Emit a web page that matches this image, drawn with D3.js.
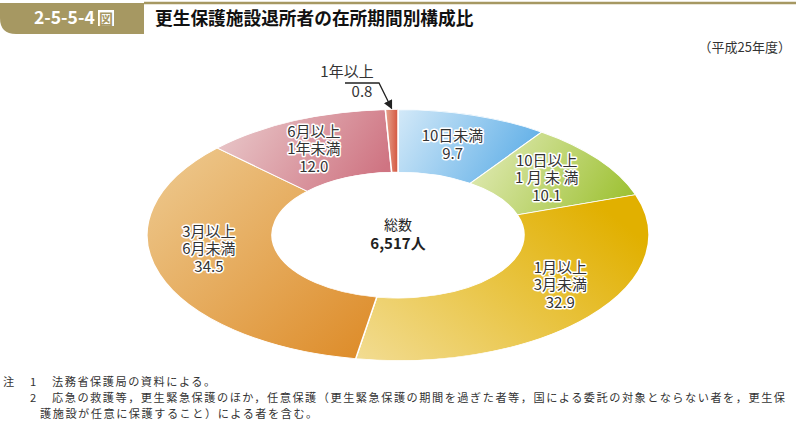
<!DOCTYPE html>
<html>
<head>
<meta charset="utf-8">
<script src="https://cdn.jsdelivr.net/npm/d3@7"></script>
<style>
  body { margin: 0; background: #fff; }
  svg { display: block; font-family: "Noto Sans CJK JP", "Noto Sans", sans-serif; }
</style>
</head>
<body>
<div id="chart"></div>
<script>
// data
var categories = ["10日未満", "10日以上1月未満", "1月以上3月未満", "3月以上6月未満", "6月以上1年未満", "1年以上"];
var values = [9.7, 10.1, 32.9, 34.5, 12.0, 0.8];
var labelLines = [
    ["10日未満", "9.7"],
    ["10日以上", "1 月 未 満", "10.1"],
    ["1月以上", "3月未満", "32.9"],
    ["3月以上", "6月未満", "34.5"],
    ["6月以上", "1年未満", "12.0"],
    []
];
var totalLabel = ["総数", "6,517人"];
var smallLabel = ["1年以上", "0.8"];

var svgWidth = 796, svgHeight = 423;
var gold = "#a69862";

var svg = d3.select("#chart").append("svg")
    .attr("width", svgWidth)
    .attr("height", svgHeight);

// header
svg.append("path")
    .attr("d", "M0,3 H144 V34 H16 Q0,34 0,18 Z")
    .attr("fill", gold);
svg.append("line")
    .attr("x1", 144).attr("x2", svgWidth)
    .attr("y1", 3).attr("y2", 3)
    .attr("stroke", gold).attr("stroke-width", 2.5);
svg.append("text")
    .attr("x", 34).attr("y", 24)
    .attr("fill", "#fff")
    .attr("font-size", 17.5).attr("font-weight", "bold")
    .text("2-5-5-4");
svg.append("rect")
    .attr("x", 98).attr("y", 10).attr("width", 16).attr("height", 16)
    .attr("fill", "#fff");
svg.append("text")
    .attr("x", 106).attr("y", 23.5)
    .attr("text-anchor", "middle")
    .attr("fill", gold)
    .attr("font-size", 14).attr("font-weight", "bold")
    .text("図");
svg.append("text")
    .attr("x", 155).attr("y", 25)
    .attr("fill", "#111")
    .attr("font-size", 17.7).attr("font-weight", "bold")
    .text("更生保護施設退所者の在所期間別構成比");
svg.append("text")
    .attr("x", 791).attr("y", 52)
    .attr("text-anchor", "end")
    .attr("fill", "#333")
    .attr("font-size", 13)
    .text("（平成25年度）");

// gradients
var grads = [
    {c0: "#d3e9f8", c1: "#66b2e8", x1: 0, y1: 0, x2: 1, y2: 0.3},
    {c0: "#e0eab4", c1: "#9fc236", x1: 0, y1: 0.3, x2: 1, y2: 0.6},
    {c0: "#f2dc92", c1: "#e1b000", x1: 0, y1: 1, x2: 1, y2: 0.3},
    {c0: "#eecb92", c1: "#dd8a26", x1: 0, y1: 0, x2: 1, y2: 1},
    {c0: "#e8c6c8", c1: "#cf7482", x1: 0, y1: 0.3, x2: 1, y2: 0.6},
    {c0: "#e6a590", c1: "#d4553f", x1: 0, y1: 0, x2: 1, y2: 0}
];
var defs = svg.append("defs");
grads.forEach(function(g, i) {
    var lg = defs.append("linearGradient")
        .attr("id", "grad" + i)
        .attr("x1", g.x1).attr("y1", g.y1)
        .attr("x2", g.x2).attr("y2", g.y2);
    lg.append("stop").attr("offset", 0).attr("stop-color", g.c0);
    lg.append("stop").attr("offset", 1).attr("stop-color", g.c1);
});

// donut (circle squashed into an ellipse)
var cx = 398, cy = 235, outerR = 251, innerR = 126, squash = 0.5;

var pie = d3.pie().sort(null).value(d => d);
var arcs = pie(values);
var arc = d3.arc().innerRadius(innerR).outerRadius(outerR);
var midArc = d3.arc().innerRadius((innerR + outerR) / 2).outerRadius((innerR + outerR) / 2);

var donut = svg.append("g")
    .attr("transform", `translate(${cx},${cy}) scale(1,${squash})`);

donut.selectAll("path")
    .data(arcs)
    .join("path")
    .attr("d", arc)
    .attr("fill", (d, i) => `url(#grad${i})`)
    .attr("stroke", "#fff")
    .attr("stroke-width", 1.5);

// labels
var labelOffsets = [[-2, 0], [-2, 0], [19, -11], [-10, -15], [-6, 0], [0, 0]];
var lineH = 17.5;
var labels = svg.append("g");
arcs.forEach(function(d, i) {
    var lines = labelLines[i];
    if (!lines.length) return;
    var c = midArc.centroid(d);
    var x = cx + c[0] + labelOffsets[i][0];
    var y = cy + c[1] * squash + labelOffsets[i][1];
    var t = labels.append("text")
        .attr("text-anchor", "middle")
        .attr("font-size", 15)
        .attr("fill", "#333")
        .attr("stroke", "#fff")
        .attr("stroke-width", 3)
        .attr("stroke-linejoin", "round")
        .attr("paint-order", "stroke");
    lines.forEach(function(s, j) {
        t.append("tspan")
            .attr("x", x)
            .attr("y", y + (j - (lines.length - 1) / 2) * lineH + 5)
            .text(s);
    });
});

// centre total
svg.append("text")
    .attr("x", cx).attr("y", cy - 5)
    .attr("text-anchor", "middle")
    .attr("font-size", 14).attr("fill", "#222")
    .text(totalLabel[0]);
svg.append("text")
    .attr("x", cx).attr("y", cy + 14)
    .attr("text-anchor", "middle")
    .attr("font-size", 15).attr("font-weight", "bold").attr("fill", "#222")
    .text(totalLabel[1]);

// small slice callout
var small = arcs[5];
var smallAng = (small.startAngle + small.endAngle) / 2;
var tipX = cx + Math.sin(smallAng) * (outerR + 2);
var tipY = cy - Math.cos(smallAng) * (outerR + 2) * squash;
defs.append("marker")
    .attr("id", "arrow")
    .attr("viewBox", "0 0 10 10")
    .attr("refX", 9).attr("refY", 5)
    .attr("markerWidth", 7).attr("markerHeight", 7)
    .attr("orient", "auto")
    .append("path")
    .attr("d", "M0,0 L10,5 L0,10 Z")
    .attr("fill", "#222");
svg.append("path")
    .attr("d", `M345,83 H379 L${tipX},${tipY}`)
    .attr("fill", "none")
    .attr("stroke", "#222")
    .attr("stroke-width", 1.3)
    .attr("marker-end", "url(#arrow)");
svg.append("text")
    .attr("x", 347).attr("y", 77)
    .attr("text-anchor", "middle")
    .attr("font-size", 15).attr("fill", "#333")
    .text(smallLabel[0]);
svg.append("text")
    .attr("x", 362).attr("y", 97)
    .attr("text-anchor", "middle")
    .attr("font-size", 15).attr("fill", "#333")
    .text(smallLabel[1]);

// notes
var notes = svg.append("g")
    .attr("font-size", 11.2)
    .attr("letter-spacing", 1.5)
    .attr("fill", "#333");
notes.append("text").attr("x", 3).attr("y", 386).text("注");
notes.append("text").attr("x", 30).attr("y", 386).text("1");
notes.append("text").attr("x", 52).attr("y", 386).text("法務省保護局の資料による。");
notes.append("text").attr("x", 30).attr("y", 402).text("2");
notes.append("text").attr("x", 52).attr("y", 402)
    .text("応急の救護等，更生緊急保護のほか，任意保護（更生緊急保護の期間を過ぎた者等，国による委託の対象とならない者を，更生保");
notes.append("text").attr("x", 40).attr("y", 418).text("護施設が任意に保護すること）による者を含む。");
</script>
</body>
</html>
